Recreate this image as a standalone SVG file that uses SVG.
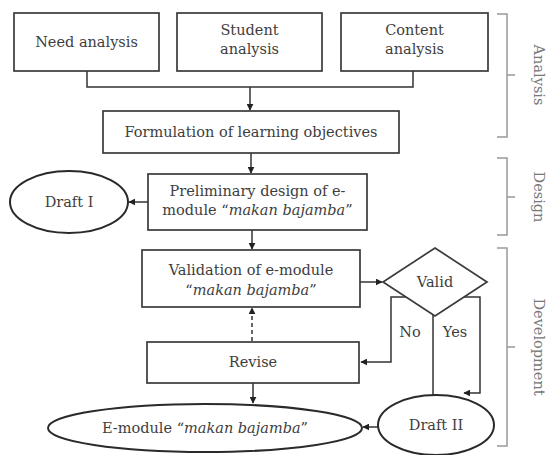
<svg xmlns="http://www.w3.org/2000/svg" width="548" height="455" viewBox="0 0 548 455">
<defs>
<marker id="ah" viewBox="0 0 10 10" refX="9" refY="5" markerWidth="7" markerHeight="7" orient="auto" markerUnits="userSpaceOnUse">
<path d="M0,0 L10,5 L0,10 z" fill="#222"/>
</marker>
<style>
.box{fill:#fff;stroke:#3a3a3a;stroke-width:1.7}
.ell{fill:#fff;stroke:#2a2a2a;stroke-width:2}
.t{font-family:"DejaVu Serif","Liberation Serif",serif;font-size:14.5px;fill:#3e3e3e;text-anchor:middle}
.i{font-style:italic}
.c{fill:none;stroke:#333;stroke-width:1.5}
.d{stroke-dasharray:4,3}
.br{fill:none;stroke:#999;stroke-width:1.5}
.lab{font-family:"DejaVu Serif","Liberation Serif",serif;font-size:14.5px;fill:#777;text-anchor:middle}
</style>
</defs>
<rect width="548" height="455" fill="#fff"/>

<g id="connectors">
<path class="c" d="M87,71 V87 H413 V71"/>
<path class="c" d="M250,87 V110" marker-end="url(#ah)"/>
<path class="c" d="M251,153 V173" marker-end="url(#ah)"/>
<path class="c" d="M148,202 H129" marker-end="url(#ah)"/>
<path class="c" d="M252,230 V249" marker-end="url(#ah)"/>
<path class="c" d="M360,282 H382" marker-end="url(#ah)"/>
<path class="c" d="M435,297 H391 V362 H361" marker-end="url(#ah)"/>
<path class="c" d="M435,297 H480 V393 H464" marker-end="url(#ah)"/>
<path class="c" d="M433,315 V395"/>
<path class="c d" d="M252,341 V308" marker-end="url(#ah)"/>
<path class="c" d="M253,383 V403" marker-end="url(#ah)"/>
<path class="c" d="M378,427 H363" marker-end="url(#ah)"/>
</g>

<g id="need">
<rect class="box" x="14" y="13" width="145" height="58"/>
<text class="t" x="86.5" y="47">Need analysis</text>
</g>
<g id="student">
<rect class="box" x="177" y="13" width="145" height="58"/>
<text class="t" x="249.5" y="35">Student</text>
<text class="t" x="249.5" y="54">analysis</text>
</g>
<g id="content">
<rect class="box" x="341" y="13" width="147" height="58"/>
<text class="t" x="414.5" y="35">Content</text>
<text class="t" x="414.5" y="54">analysis</text>
</g>
<g id="formulation">
<rect class="box" x="103" y="111" width="296" height="42"/>
<text class="t" x="251" y="137">Formulation of learning objectives</text>
</g>
<g id="preliminary">
<rect class="box" x="148" y="174" width="219" height="56"/>
<text class="t" x="257.5" y="196">Preliminary design of e-</text>
<text class="t" x="257.5" y="215">module “<tspan class="i">makan bajamba</tspan>”</text>
</g>
<g id="draft1">
<ellipse class="ell" cx="69" cy="202" rx="59" ry="31"/>
<text class="t" x="69" y="207">Draft I</text>
</g>
<g id="validation">
<rect class="box" x="142" y="250" width="218" height="57"/>
<text class="t" x="251" y="275">Validation of e-module</text>
<text class="t" x="251" y="295">“<tspan class="i">makan bajamba</tspan>”</text>
</g>
<g id="valid">
<polygon class="box" points="435,248 487,282 435,316 383,282"/>
<text class="t" x="435" y="287">Valid</text>
</g>
<text class="t" x="410" y="337">No</text>
<text class="t" x="455" y="337">Yes</text>
<g id="revise">
<rect class="box" x="147" y="342" width="212" height="41"/>
<text class="t" x="253" y="367">Revise</text>
</g>
<g id="emodule">
<ellipse class="ell" cx="205" cy="428" rx="157" ry="24"/>
<text class="t" x="205" y="433">E-module “<tspan class="i">makan bajamba</tspan>”</text>
</g>
<g id="draft2">
<ellipse class="ell" cx="436" cy="425" rx="58" ry="30"/>
<text class="t" x="436" y="430">Draft II</text>
</g>

<g id="brackets">
<path class="br" d="M497,14 H507 V137 H497 M507,75 H515"/>
<path class="br" d="M497,158 H507 V235 H497 M507,197 H515"/>
<path class="br" d="M497,248 H507 V446 H497 M507,347 H515"/>
<text class="lab" transform="translate(534,75) rotate(90)">Analysis</text>
<text class="lab" transform="translate(534,197) rotate(90)">Design</text>
<text class="lab" transform="translate(534,347) rotate(90)">Development</text>
</g>
</svg>
